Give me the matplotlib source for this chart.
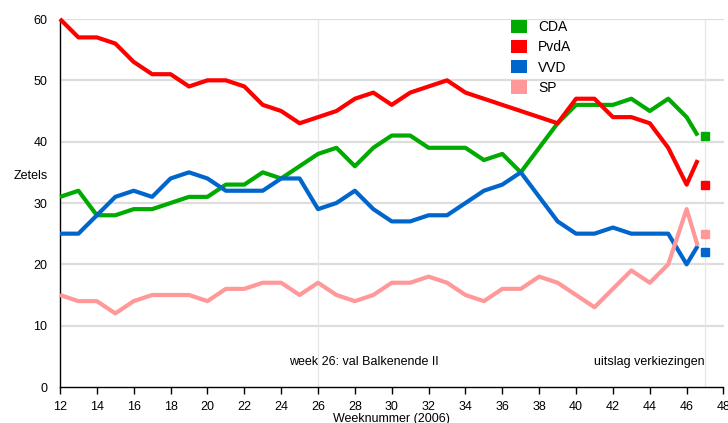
import matplotlib
matplotlib.use("Agg")
import matplotlib.pyplot as plt
from matplotlib.patches import Patch

plt.rcParams['font.family'] = ['Liberation Sans', 'DejaVu Sans']

# peilingen per week (laatste punt = week 46.6), uitslag op week 47
weeks = [12, 13, 14, 15, 16, 17, 18, 19, 20, 21, 22, 23, 24, 25, 26, 27, 28, 29,
         30, 31, 32, 33, 34, 35, 36, 37, 38, 39, 40, 41, 42, 43, 44, 45, 46, 46.6]
cda = [31, 32, 28, 28, 29, 29, 30, 31, 31, 33, 33, 35, 34, 36, 38, 39, 36, 39,
       41, 41, 39, 39, 39, 37, 38, 35, 39, 43, 46, 46, 46, 47, 45, 47, 44, 41]
pvda = [60, 57, 57, 56, 53, 51, 51, 49, 50, 50, 49, 46, 45, 43, 44, 45, 47, 48,
        46, 48, 49, 50, 48, 47, 46, 45, 44, 43, 47, 47, 44, 44, 43, 39, 33, 37]
vvd = [25, 25, 28, 31, 32, 31, 34, 35, 34, 32, 32, 32, 34, 34, 29, 30, 32, 29,
       27, 27, 28, 28, 30, 32, 33, 35, 31, 27, 25, 25, 26, 25, 25, 25, 20, 23]
sp = [15, 14, 14, 12, 14, 15, 15, 15, 14, 16, 16, 17, 17, 15, 17, 15, 14, 15,
      17, 17, 18, 17, 15, 14, 16, 16, 18, 17, 15, 13, 16, 19, 17, 20, 29, 23]

result_week = 47
results = {'CDA': 41, 'PvdA': 33, 'VVD': 22, 'SP': 25}

parties = ['CDA', 'PvdA', 'VVD', 'SP']
series = [cda, pvda, vvd, sp]
colors = ['#00aa00', '#ff0000', '#0066cc', '#ff9999']

fig = plt.figure(figsize=(7.28, 4.23), dpi=100)
ax = fig.add_axes([60 / 728, 1 - 387 / 423, 663.5 / 728, 368 / 423])

# grid
for yv in range(10, 61, 10):
    ax.axhline(yv, color='#dddddd', lw=1.6, zorder=0)
for xv in [26, 47]:
    ax.axvline(xv, color='#e6e6e6', lw=0.9, zorder=0)

for vals, col in zip(series, colors):
    ax.plot(weeks, vals, color=col, lw=3, solid_joinstyle='round',
            solid_capstyle='butt', clip_on=False, zorder=3)

for name, col in zip(parties, colors):
    ax.plot(result_week, results[name], marker='s', ms=6, color=col,
            ls='none', clip_on=False, zorder=3)

ax.set_xlim(12, 48)
ax.set_ylim(0, 60)
ax.set_xticks(range(12, 49, 2))
ax.set_yticks(range(0, 61, 10))
for s in ['top', 'right']:
    ax.spines[s].set_visible(False)
ax.spines['left'].set_linewidth(1.0)
ax.spines['bottom'].set_linewidth(1.0)
ax.tick_params(axis='x', length=5, width=1, labelsize=9, pad=5)
ax.tick_params(axis='y', length=0, labelsize=9, pad=9)
ax.set_xlabel('Weeknummer (2006)', fontsize=9, labelpad=0)

fig.text(14 / 728, 1 - 176 / 423, 'Zetels', fontsize=9, ha='left', va='center')

ax.text(28.5, 4.1, 'week 26: val Balkenende II', fontsize=9, ha='center', va='center')
ax.text(47, 4.1, 'uitslag verkiezingen', fontsize=9, ha='right', va='center')

handles = [Patch(facecolor=c, edgecolor='none') for c in colors]
ax.legend(handles, parties, loc='upper left', bbox_to_anchor=(511 / 728, 1 - 20 / 423),
          bbox_transform=fig.transFigure, frameon=False, fontsize=10,
          handlelength=1.15, handleheight=1.08, handletextpad=0.8,
          labelspacing=0.42, borderpad=0, borderaxespad=0)

fig.savefig('out.png', dpi=100)
